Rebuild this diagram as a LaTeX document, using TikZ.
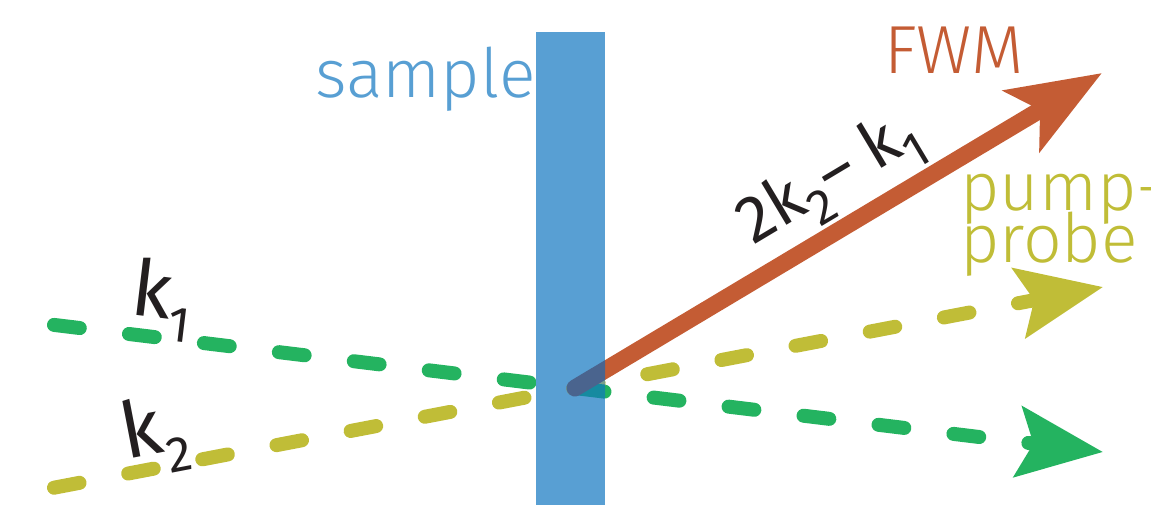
\documentclass[tikz,border=0pt]{standalone}
\usepackage{fontspec}
\setmainfont{Fira Sans Light}
\newfontfamily\regfont{Fira Sans}
\usetikzlibrary{arrows.meta}
\definecolor{barblue}{RGB}{88,159,211}
\definecolor{fwmorange}{RGB}{196,92,52}
\definecolor{beamgreen}{RGB}{36,179,96}
\definecolor{beamyellow}{RGB}{192,189,55}
\definecolor{inkblack}{RGB}{35,31,32}
\definecolor{mixorange}{RGB}{74,100,142}
\definecolor{mixgreen}{RGB}{22,138,160}
\definecolor{mixyellow}{RGB}{120,160,140}
\newcommand\lowsub[1]{\raisebox{-0.28em}{\fontsize{50}{50}\selectfont #1}}
\tikzset{
  beam/.style={line width=14pt, line cap=round, dash pattern=on 26pt off 49.5pt},
  fwm/.style={line width=17pt, line cap=round, fwmorange},
  lbl/.style={inner sep=0pt, font=\fontsize{68}{68}\selectfont},
  klbl/.style={inner sep=0pt, font=\regfont\fontsize{78}{78}\selectfont, text=inkblack},
}
\begin{document}
\begin{tikzpicture}[x=1pt,y=-1pt]
\useasboundingbox (0,0) rectangle (1151,515);
\coordinate (g0) at (54,324.9);
\coordinate (gtip) at (1103,452);
\coordinate (y0) at (54,487.7);
\coordinate (ytip) at (1103,287);
\coordinate (cross) at (575,388);
\coordinate (ftip) at (1102,73);
% beams
\draw[beam, beamgreen, -{Stealth[length=85pt,width=70pt,inset=15pt]}] (g0) -- (gtip);
\draw[beam, beamyellow, -{Stealth[length=85pt,width=70pt,inset=15pt]}] (y0) -- (ytip);
\draw[fwm, -{Stealth[length=93pt,width=70pt,inset=21pt]}] (cross) -- (ftip);
% sample bar
\fill[barblue] (536,32) rectangle (605,505);
\begin{scope}
  \clip (566,32) rectangle (605,505);
  \draw[beam, mixyellow] (y0) -- (ytip);
  \draw[beam, mixgreen] (g0) -- (gtip);
  \draw[fwm, mixorange] (cross) -- (ftip);
\end{scope}
% labels
\node[lbl, text=barblue, anchor=base west] (sample) at (315,97) {sample};
\node[lbl, text=fwmorange, anchor=base west] (fwmlbl) at (884,73) {FWM};
\node[lbl, text=beamyellow, anchor=base west] (pump) at (960,210) {pump-};
\node[lbl, text=beamyellow, anchor=base west] (probe) at (960,262) {probe};
\node[klbl, rotate=-6.9] (k1) at (162,300) {k\lowsub{1}};
\node[klbl, rotate=10.9] (k2) at (155,435) {k\lowsub{2}};
\node[klbl, font=\regfont\fontsize{66}{66}\selectfont, rotate=30.9] (diff) at (831,181) {2k\lowsub{2}– k\lowsub{1}};
\end{tikzpicture}
\end{document}
